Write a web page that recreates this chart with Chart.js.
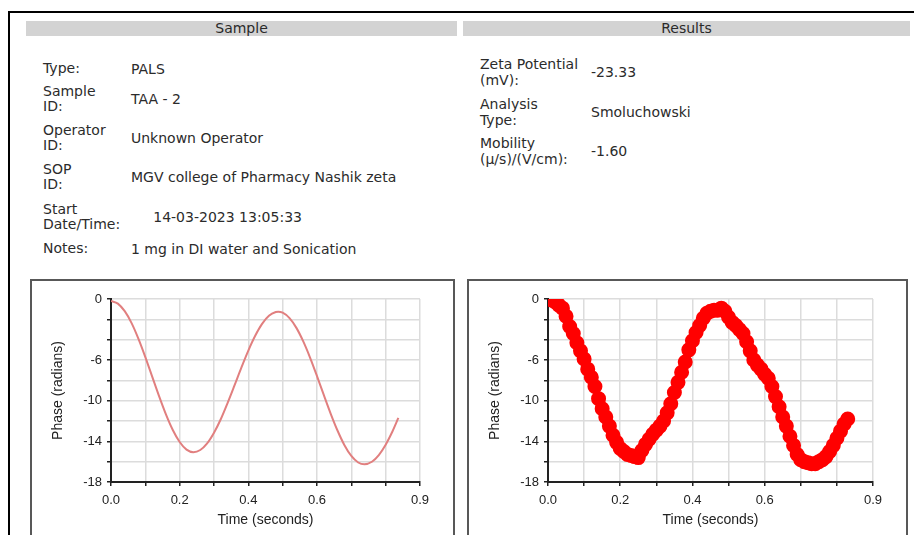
<!DOCTYPE html>
<html>
<head>
<meta charset="utf-8">
<script src="https://cdn.jsdelivr.net/npm/chart.js@4.4.0/dist/chart.umd.min.js"></script>
<style>
  body { margin: 0; background: #fff; width: 914px; height: 535px; overflow: hidden; position: relative; }
  .frame { position: absolute; left: 8px; top: 11px; width: 930px; height: 560px; border-top: 2px solid #000; border-left: 2px solid #000; }
  .bar { position: absolute; top: 21px; height: 15px; background: #d3d3d3; color: #2a2a2a;
         font: 14px "DejaVu Sans", sans-serif; text-align: center; line-height: 15px; }
  .info { position: absolute; left: 0; top: 0; width: 914px; font: 14px "DejaVu Sans", sans-serif; color: #2b2b2b; }
  .row { position: absolute; display: flex; align-items: center; }
  .lbl { white-space: nowrap; }
  .val { position: absolute; white-space: pre; }
  .box { position: absolute; top: 279px; height: 280px; border: 2px solid #585858; box-sizing: border-box; }
  canvas { position: absolute; }
</style>
</head>
<body>
<div class="frame"></div>
<div class="bar" style="left:26px; width:431px;">Sample</div>
<div class="bar" style="left:463px; width:447px;">Results</div>
<div id="sample" class="info"></div>
<div id="results" class="info"></div>
<div class="box" style="left:30px; width:425px;"></div>
<div class="box" style="left:467px; width:441px;"></div>
<canvas id="fitChart" width="421" height="254" style="left:32px; top:281px;"></canvas>
<canvas id="rawChart" width="437" height="254" style="left:469px; top:281px;"></canvas>
<script>
// sample details: label lines, value, row top
var sampleLabels = [["Type:"], ["Sample", "ID:"], ["Operator", "ID:"], ["SOP", "ID:"], ["Start", "Date/Time:"], ["Notes:"]];
var sampleValues = ["PALS", "TAA - 2", "Unknown Operator", "MGV college of Pharmacy Nashik zeta", "     14-03-2023 13:05:33", "1 mg in DI water and Sonication"];
var sampleTops = [61, 84, 123, 162, 202, 241];

var resultLabels = [["Zeta Potential", "(mV):"], ["Analysis", "Type:"], ["Mobility", "(\u00b5/s)/(V/cm):"]];
var resultValues = ["-23.33", "Smoluchowski", "-1.60"];
var resultTops = [56, 96, 135];

// fitted phase curve
var fitTime = [0.00, 0.02, 0.04, 0.06, 0.08, 0.10, 0.12, 0.14, 0.16, 0.18, 0.20, 0.22, 0.24,
    0.26, 0.28, 0.30, 0.32, 0.34, 0.36, 0.38, 0.40, 0.42, 0.44, 0.46, 0.48, 0.487,
    0.50, 0.52, 0.54, 0.56, 0.58, 0.60, 0.62, 0.64, 0.66, 0.68, 0.70, 0.72, 0.738,
    0.76, 0.78, 0.80, 0.82, 0.837];
var fitPhase = [-0.2, -0.45, -1.2, -2.37, -3.92, -5.71, -7.64, -9.56, -11.35, -12.89, -14.07, -14.82, -15.07,
    -14.85, -14.2, -13.15, -11.8, -10.19, -8.47, -6.72, -5.07, -3.62, -2.45, -1.65, -1.28, -1.25,
    -1.35, -1.88, -2.84, -4.17, -5.78, -7.58, -9.46, -11.29, -12.96, -14.38, -15.44, -16.08, -16.26,
    -16.01, -15.35, -14.33, -13.01, -11.7];

// measured phase points
var rawTime = [];
for (let i = 0; i <= 83; i++) rawTime.push(i / 100);
var rawPhase = [0.0, -0.1, -0.3, -0.6, -0.9, -1.7, -2.7, -3.4, -4.3, -5.1,
    -5.9, -6.9, -7.7, -8.6, -9.8, -10.8, -11.6, -12.5, -13.4, -14.1,
    -14.7, -15.0, -15.3, -15.4, -15.5, -15.6, -14.9, -14.3, -13.8, -13.3,
    -12.9, -12.5, -12.0, -11.2, -10.3, -9.2, -8.2, -7.2, -6.2, -5.0,
    -4.1, -3.3, -2.6, -1.9, -1.4, -1.2, -1.1, -1.1, -0.9, -1.2,
    -1.8, -2.3, -2.6, -3.0, -3.4, -4.2, -5.1, -6.0, -6.5, -6.9,
    -7.4, -7.8, -8.6, -9.6, -10.6, -11.6, -12.5, -13.5, -14.4, -15.3,
    -15.8, -16.0, -16.1, -16.2, -16.2, -16.0, -15.8, -15.5, -15.0, -14.4,
    -13.7, -13.0, -12.3, -11.8];

var xLabelTicks = [0.0, 0.2, 0.4, 0.6, 0.9];
var yLabelTicks = [0, -6, -10, -14, -18];

function fillInfo(id, left, valueLeft, lineHeight, labels, values, tops) {
    var el = document.getElementById(id);
    for (let i = 0; i < labels.length; i++) {
        var row = document.createElement('div');
        row.className = 'row';
        row.style.left = left + 'px';
        row.style.top = tops[i] + 'px';
        row.style.height = (labels[i].length * lineHeight) + 'px';
        var lbl = document.createElement('div');
        lbl.className = 'lbl';
        lbl.style.lineHeight = lineHeight + 'px';
        lbl.innerHTML = labels[i].join('<br>');
        var val = document.createElement('div');
        val.className = 'val';
        val.style.left = (valueLeft - left) + 'px';
        val.textContent = values[i];
        row.appendChild(lbl);
        row.appendChild(val);
        el.appendChild(row);
    }
}

fillInfo('sample', 43, 131, 15, sampleLabels, sampleValues, sampleTops);
fillInfo('results', 480, 591, 16, resultLabels, resultValues, resultTops);

function points(xs, ys) {
    var out = [];
    for (let i = 0; i < xs.length; i++) out.push({x: xs[i], y: ys[i]});
    return out;
}

function phaseOptions() {
    return {
        responsive: false,
        animation: false,
        layout: {padding: {left: 13.6, top: 18, right: 33, bottom: 2.6}},
        plugins: {legend: {display: false}, tooltip: {enabled: false}},
        scales: {
            x: {
                type: 'linear', min: 0, max: 0.9,
                afterFit: function (s) { s.height = 50.4; },
                border: {color: '#222', width: 2},
                grid: {color: '#dcdcdc', lineWidth: 1.5, tickColor: '#222', tickLength: 4},
                ticks: {
                    stepSize: 0.1, autoSkip: false, maxRotation: 0, padding: 7,
                    color: '#222', font: {family: 'Liberation Sans', size: 13},
                    callback: function (v) {
                        var r = Math.round(v * 10) / 10;
                        return xLabelTicks.indexOf(r) >= 0 ? r.toFixed(1) : '';
                    }
                },
                title: {display: true, text: 'Time (seconds)', color: '#222', font: {family: 'Liberation Sans', size: 14}}
            },
            y: {
                type: 'linear', min: -18, max: 0,
                afterFit: function (s) { s.width = 65.4; },
                border: {color: '#222', width: 2},
                grid: {color: '#dcdcdc', lineWidth: 1.5, tickColor: '#222', tickLength: 4},
                ticks: {
                    stepSize: 2, autoSkip: false, padding: 5,
                    color: '#222', font: {family: 'Liberation Sans', size: 13},
                    callback: function (v) {
                        return yLabelTicks.indexOf(Math.round(v)) >= 0 ? String(Math.round(v)) : '';
                    }
                },
                title: {display: true, text: 'Phase (radians)', color: '#222', font: {family: 'Liberation Sans', size: 14}}
            }
        }
    };
}

new Chart(document.getElementById('fitChart').getContext('2d'), {
    type: 'scatter',
    data: {datasets: [{
        data: points(fitTime, fitPhase),
        showLine: true,
        borderColor: '#e17f7f',
        borderWidth: 2,
        pointRadius: 0,
        cubicInterpolationMode: 'monotone'
    }]},
    options: phaseOptions()
});

new Chart(document.getElementById('rawChart').getContext('2d'), {
    type: 'scatter',
    data: {datasets: [{
        data: points(rawTime, rawPhase),
        showLine: true,
        borderColor: '#ff0000',
        borderWidth: 7,
        backgroundColor: '#ff0000',
        pointBorderColor: '#ff0000',
        pointRadius: 4,
        borderJoinStyle: 'round'
    }]},
    options: phaseOptions()
});
</script>
</body>
</html>
